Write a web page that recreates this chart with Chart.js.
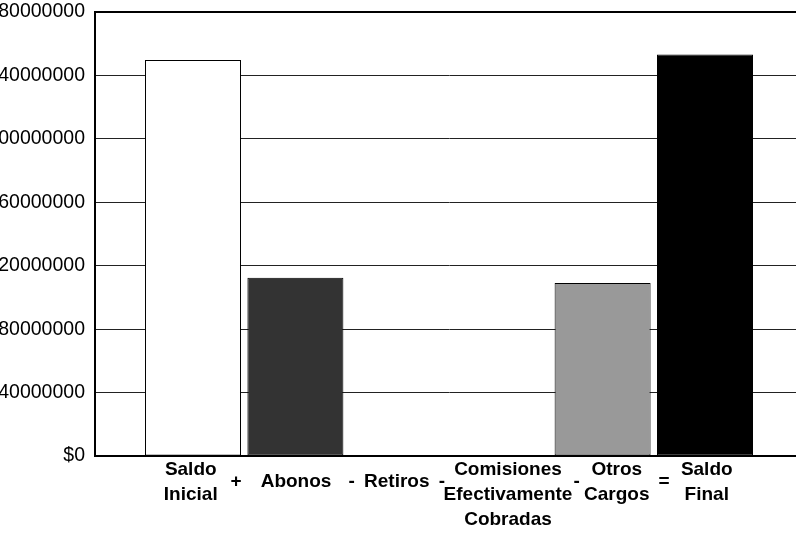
<!DOCTYPE html>
<html>
<head>
<meta charset="utf-8">
<script src="https://cdn.jsdelivr.net/npm/chart.js@4.4.1/dist/chart.umd.min.js"></script>
<style>
html, body { margin: 0; padding: 0; background: #fff; overflow: hidden; }
#frame { position: relative; width: 796px; height: 533px; overflow: hidden; }
#wrap { position: absolute; left: -40px; top: 0; width: 880px; height: 533px; }
</style>
</head>
<body>
<div id="frame"><div id="wrap"><canvas id="chart"></canvas></div></div>
<script>
// conceptos del estado de cuenta y sus montos
const conceptos = ['Saldo Inicial', 'Abonos', 'Retiros', 'Comisiones Efectivamente Cobradas', 'Otros Cargos', 'Saldo Final'];
const posiciones = [0, 1, 2, 3, 4, 5];
const montos = [249800000, 112400000, 0, 0, 109100000, 253200000];
const colores = ['#ffffff', '#333333', '#ffffff', '#ffffff', '#999999', '#000000'];

// etiquetas del eje X y su posicion (en unidades de categoria)
const etiquetas = [['Saldo', 'Inicial'], '+', 'Abonos', '-', 'Retiros', '-',
    ['Comisiones', 'Efectivamente', 'Cobradas'], '-', ['Otros', 'Cargos'], '=', ['Saldo', 'Final']];
const posEtiquetas = [-0.022, 0.42, 1.006, 1.55, 1.99, 2.43, 3.076, 3.747, 4.138, 4.60, 5.017];

// eje Y
const yMin = 0;
const yMax = 280000000;
const yPaso = 40000000;

const xMin = -0.957;
const xMax = 5.957;

const ctx = document.getElementById('chart').getContext('2d');

new Chart(ctx, {
    type: 'bar',
    data: {
        datasets: [{
            label: 'Estado de cuenta',
            data: posiciones.map((p, i) => ({ x: p, y: montos[i] })),
            backgroundColor: colores,
            borderColor: '#000000',
            borderWidth: 1,
            borderSkipped: false,
            categoryPercentage: 1,
            barPercentage: 0.9375
        }]
    },
    options: {
        responsive: true,
        maintainAspectRatio: false,
        animation: false,
        layout: {
            padding: { left: 15, right: 37, top: 0, bottom: 0 }
        },
        scales: {
            x: {
                type: 'linear',
                display: false,
                offset: false,
                grid: { offset: false },
                min: xMin,
                max: xMax,
                afterBuildTicks: axis => {
                    axis.ticks = posiciones.map(v => ({ value: v }));
                }
            },
            xl: {
                type: 'linear',
                position: 'bottom',
                offset: false,
                min: xMin,
                max: xMax,
                afterBuildTicks: axis => {
                    axis.ticks = posEtiquetas.map(v => ({ value: v }));
                },
                grid: { display: false, drawTicks: false, offset: false },
                border: { display: true, color: '#000000', width: 2 },
                ticks: {
                    autoSkip: false,
                    maxRotation: 0,
                    minRotation: 0,
                    padding: 1,
                    color: '#000000',
                    callback: (value, index) => etiquetas[index],
                    font: c => ({
                        family: "'Liberation Sans', Arial, sans-serif",
                        size: 19,
                        weight: 'bold',
                        lineHeight: Array.isArray(etiquetas[c.index]) ? '25px' : '50px'
                    })
                }
            },
            y: {
                min: yMin,
                max: yMax,
                afterFit: axis => {
                    axis.width = 120;
                    axis.paddingTop = 12;
                    axis.paddingBottom = 0;
                },
                grid: {
                    drawTicks: false,
                    color: c => c.tick && c.tick.value === yMax ? '#000000' : '#222222',
                    lineWidth: c => c.tick && c.tick.value === yMax ? 2 : 1
                },
                border: { display: true, color: '#000000', width: 2 },
                ticks: {
                    stepSize: yPaso,
                    padding: 10,
                    color: '#000000',
                    font: { family: "'Liberation Sans', Arial, sans-serif", size: 19.5 },
                    callback: v => '$' + v
                }
            }
        },
        plugins: {
            legend: { display: false },
            tooltip: { enabled: false }
        }
    }
});
</script>
</body>
</html>
